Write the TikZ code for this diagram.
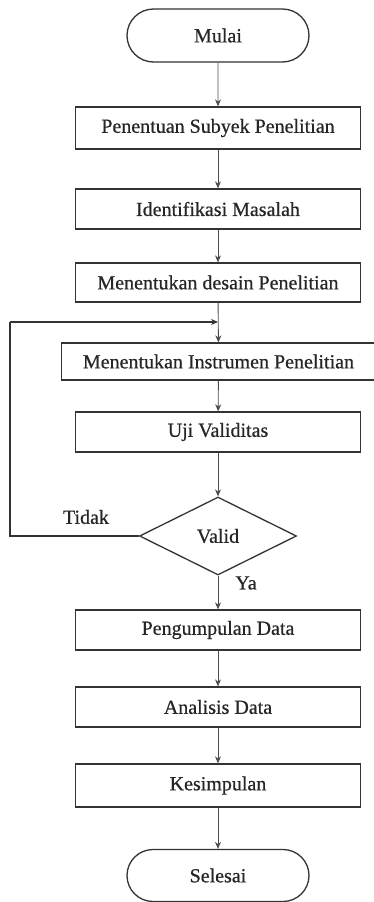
\documentclass[tikz,border=0pt]{standalone}
\usepackage{fontspec}
\setmainfont{Liberation Serif}[FakeBold=0.6]
\usetikzlibrary{shapes.geometric,shapes.misc,arrows.meta}
\begin{document}
\begin{tikzpicture}[x=1pt,y=1pt,
  every node/.style={font=\fontsize{20}{23}\selectfont, text=black!85},
  procbox/.style={draw=black!80, line width=1.3pt, rectangle, minimum width=285pt, inner sep=0pt},
  termbox/.style={draw=black!80, line width=1.3pt, rounded rectangle, minimum width=182pt, minimum height=53pt, inner sep=0pt},
  decbox/.style={draw=black!80, line width=1.3pt, diamond, aspect=2, minimum width=157pt, minimum height=78pt, inner sep=0pt},
  conn/.style={draw=black!70, line width=0.9pt, -{Stealth[length=7pt,width=6pt]}},
  plain/.style={draw=black!80, line width=1.2pt}
]
\useasboundingbox (0,0) rectangle (374,-902);
\node[termbox] (start) at (218,-35.5) {Mulai};
\node[procbox, minimum height=42pt] (b1) at (218,-128) {Penentuan Subyek Penelitian};
\node[procbox, minimum height=40pt] (b2) at (218,-209) {Identifikasi Masalah};
\node[procbox, minimum height=39pt] (b3) at (218,-282.5) {Menentukan desain Penelitian};
\node[procbox, minimum height=37pt, minimum width=314pt] (b4) at (218.5,-361.5) {Menentukan Instrumen Penelitian};
\node[procbox, minimum height=40pt] (b5) at (218,-432) {Uji Validitas};
\node[decbox] (dec) at (218,-536) {Valid};
\node[procbox, minimum height=40pt] (b6) at (218,-630) {Pengumpulan Data};
\node[procbox, minimum height=40pt] (b7) at (218,-707) {Analisis Data};
\node[procbox, minimum height=43pt] (b8) at (218,-785.5) {Kesimpulan};
\node[termbox, minimum height=52pt] (end) at (218,-875.5) {Selesai};
\node (tidak) at (86,-517) {Tidak};
\node (ya) at (246,-583) {Ya};
\coordinate (join) at (218,-322);
\coordinate (left) at (10,-536);
\draw[conn] (start) -- (b1);
\draw[conn] (b1) -- (b2);
\draw[conn] (b2) -- (b3);
\draw[conn] (b3) -- (b4);
\draw[conn] (b4) -- (b5);
\draw[conn] (b5) -- (dec);
\draw[conn] (dec) -- (b6);
\draw[conn] (b6) -- (b7);
\draw[conn] (b7) -- (b8);
\draw[conn] (b8) -- (end);
\draw[plain] (dec.west) -- (left) -- (left |- join);
\draw[conn, draw=black!80, line width=1.1pt] (left |- join) -- (join);
\end{tikzpicture}
\end{document}
